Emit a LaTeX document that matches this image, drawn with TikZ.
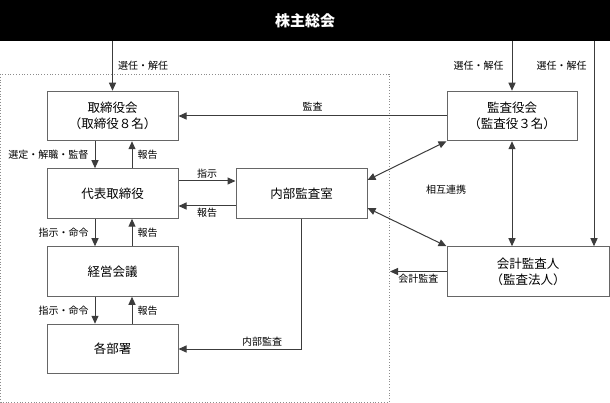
\documentclass[tikz,border=0pt]{standalone}
\usepackage{fontspec}
\setmainfont{Noto Sans CJK JP}
\usetikzlibrary{arrows.meta}

\definecolor{boxgray}{HTML}{666666}
\definecolor{linegray}{HTML}{3C3C3C}
\definecolor{framegray}{HTML}{8C8C8C}

\tikzset{
  box/.style={draw=boxgray, line width=1pt, fill=white, minimum width=131pt,
    minimum height=49.5pt, inner sep=0pt, align=center,
    font=\fontsize{12.5}{16}\selectfont},
  lbl/.style={font=\fontsize{10}{12}\selectfont, inner sep=2pt},
  ln/.style={->, draw=linegray, line width=1pt},
}

\begin{document}
\begin{tikzpicture}[x=1pt, y=-1pt, >={Triangle[length=8pt,width=7pt]}]
  \useasboundingbox (0,0) rectangle (610,403);
  \node (gm) [fill=black, text=white, minimum width=610pt, minimum height=41pt,
    inner sep=0pt, anchor=north west, font=\fontsize{15}{18}\selectfont\bfseries]
    at (0,0) {株主総会};
  \draw[framegray, dotted, line width=.8pt] (0.5,74) rectangle (389,402);

  \path (112.5,116)
    node (bd) [box] {取締役会\\（取締役８名）} ++(0,77.5)
    node (rp) [box] {代表取締役} ++(0,78)
    node (mt) [box] {経営会議} ++(0,77.5)
    node (dp) [box] {各部署}
    ;
  \path (301.5,193.5) node (ia) [box] {内部監査室};
  \path (512,116) node (ac) [box, minimum width=130pt] {監査役会\\（監査役３名）};
  \path (528,271.5) node (ea) [box, minimum width=162pt] {会計監査人\\（監査法人）};

  \draw[ln] (gm.south -| bd.north) -- node (sl1) [lbl, right, xshift=3pt] {選任・解任} (bd.north);
  \draw[ln] (gm.south -| ac.north) -- node (sl2) [lbl, left, xshift=-6pt] {選任・解任} (ac.north);
  \coordinate (sr) at (594,41);
  \draw[ln] (sr) -- node (sl3) [lbl, left, xshift=-5pt, pos=.12] {選任・解任} (sr |- ea.north);

  \draw[ln] (ac.west) -- node (au) [lbl, above, yshift=2pt] {監査} (bd.east);

  \draw[ln] ([xshift=-17.5pt]bd.south) -- node (bs) [lbl, left, xshift=-4pt] {選定・解職・監督} ([xshift=-17.5pt]rp.north);
  \draw[ln] ([xshift=19.5pt]rp.north) -- node (br) [lbl, right, xshift=3pt] {報告} ([xshift=19.5pt]bd.south);
  \draw[ln] ([xshift=-17.5pt]rp.south) -- node (ri) [lbl, left, xshift=-4pt] {指示・命令} ([xshift=-17.5pt]mt.north);
  \draw[ln] ([xshift=19.5pt]mt.north) -- node (rr) [lbl, right, xshift=3pt] {報告} ([xshift=19.5pt]rp.south);
  \draw[ln] ([xshift=-17.5pt]mt.south) -- node (mi) [lbl, left, xshift=-4pt] {指示・命令} ([xshift=-17.5pt]dp.north);
  \draw[ln] ([xshift=19.5pt]dp.north) -- node (mr) [lbl, right, xshift=3pt] {報告} ([xshift=19.5pt]mt.south);

  \draw[ln] ([yshift=12.5pt]rp.east) -- node (ii) [lbl, above] {指示} ([yshift=12.5pt]ia.west);
  \draw[ln] ([yshift=-12.5pt]ia.west) -- node (ir) [lbl, below] {報告} ([yshift=-12.5pt]rp.east);

  \draw[ln, <->] ([yshift=13.5pt]ia.east) -- (ac.south west);
  \draw[ln, <->] ([yshift=-14.5pt]ia.east) -- (ea.north west);
  \draw[ln, <->] (ac.south) -- (ac.south |- ea.north);
  \node (co) [lbl] at (446,190) {相互連携};

  \coordinate (ca) at (390,271.5);
  \draw[ln] (ea.west) -- node (ec) [lbl, below] {会計監査} (ca);
  \draw[ln] (ia.south) |- node (ic) [lbl, above, pos=.66] {内部監査} (dp.east);
\end{tikzpicture}
\end{document}
